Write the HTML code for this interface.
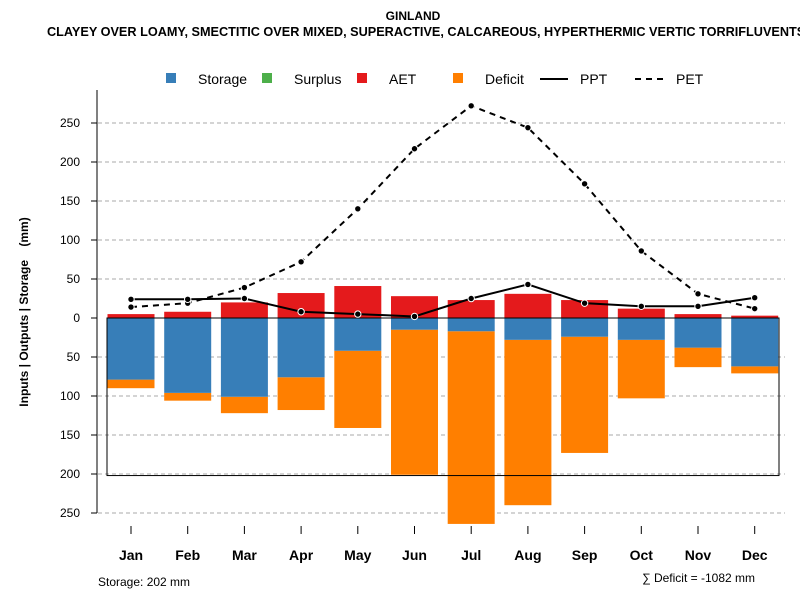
<!DOCTYPE html>
<html><head><meta charset="utf-8"><style>
body{margin:0;background:#fff}
svg{font-family:"Liberation Sans",sans-serif}
</style></head><body>
<svg id="c" width="800" height="600" xmlns="http://www.w3.org/2000/svg">
<text x="413" y="20" text-anchor="middle" font-size="12" font-weight="bold">GINLAND</text>
<text x="47" y="36" font-size="12.7" font-weight="bold">CLAYEY OVER LOAMY, SMECTITIC OVER MIXED, SUPERACTIVE, CALCAREOUS, HYPERTHERMIC VERTIC TORRIFLUVENTS</text>
<g font-size="14">
<rect x="166" y="73" width="10" height="10" fill="#377eb8"/>
<text x="198" y="84">Storage</text>
<rect x="262" y="73" width="10" height="10" fill="#4daf4a"/>
<text x="294" y="84">Surplus</text>
<rect x="357" y="73" width="10" height="10" fill="#e41a1c"/>
<text x="389" y="84">AET</text>
<rect x="453" y="73" width="10" height="10" fill="#ff7f00"/>
<text x="485" y="84">Deficit</text>
<line x1="540" y1="79" x2="568" y2="79" stroke="#000" stroke-width="2"/>
<text x="580" y="84">PPT</text>
<line x1="635" y1="79" x2="663" y2="79" stroke="#000" stroke-width="2" stroke-dasharray="6,5"/>
<text x="676" y="84">PET</text>
</g>
<text transform="translate(28,312) rotate(-90)" text-anchor="middle" font-size="12" font-weight="bold" xml:space="preserve">Inputs | Outputs | Storage    (mm)</text>
<text x="98" y="586" font-size="12">Storage: 202 mm</text>
<text x="755" y="582" text-anchor="end" font-size="12">∑ Deficit = -1082 mm</text>
<g id="g"></g>
</svg>
<script>
const months=["Jan","Feb","Mar","Apr","May","Jun","Jul","Aug","Sep","Oct","Nov","Dec"];
const ppt=[24,24,25,8,5,2,25,43,19,15,15,26];
const pet=[14,19,39,72,140,217,272,244,172,86,31,12];
const aet=[5,8,20,32,41,28,23,31,23,12,5,3];
const storage=[79,96,101,76,42,15,17,28,24,28,38,62];
const deficit=[11,10,21,42,99,186,247,212,149,75,25,9];
const yTicks=[250,200,150,100,50,0,50,100,150,200,250];
const yTickVals=[250,200,150,100,50,0,-50,-100,-150,-200,-250];
const capacity=202;
const NS="http://www.w3.org/2000/svg";
const g=document.getElementById('g');
const y=v=>318-v*0.78;
const x=i=>131+i*56.7;
const bw=47;
function mk(t,a){const e=document.createElementNS(NS,t);for(const k in a)e.setAttribute(k,a[k]);g.appendChild(e);return e;}
yTickVals.forEach((v,i)=>{
 if(v!==0){const l=mk('line',{x1:98,x2:785,y1:y(v),y2:y(v),stroke:'#aaa','stroke-dasharray':'4,3'});
 
 }
 const t=mk('line',{x1:91,x2:97,y1:y(v),y2:y(v),stroke:'#000'});
 
 
 const tx=mk('text',{x:80,y:y(v)+4,'text-anchor':'end','font-size':12});
 tx.textContent=yTicks[i];
 
 
});
const ax=mk('line',{x1:97,x2:97,y1:90,y2:513,stroke:'#000'});


months.forEach((m,i)=>{
 const d=mk('rect',{x:x(i)-bw/2,y:y(-storage[i]),width:bw,height:deficit[i]*0.78,fill:'#ff7f00'});
 
 
 const s=mk('rect',{x:x(i)-bw/2,y:y(0),width:bw,height:storage[i]*0.78,fill:'#377eb8'});
 
 
 const a=mk('rect',{x:x(i)-bw/2,y:y(aet[i]),width:bw,height:aet[i]*0.78,fill:'#e41a1c'});
 
 
 const t=mk('line',{x1:x(i),x2:x(i),y1:526,y2:534,stroke:'#000'});
 
 
 const tx=mk('text',{x:x(i),y:560,'text-anchor':'middle','font-size':14,'font-weight':'bold'});
 tx.textContent=m;
 
 
});
const box=mk('rect',{x:107,y:y(0),width:672,height:capacity*0.78,fill:'none',stroke:'#000'});


const zl=mk('line',{x1:107,x2:779,y1:y(0),y2:y(0),stroke:'#000'});


function series(arr,name,dash){
 const p=mk('polyline',{points:arr.map((v,i)=>x(i)+','+y(v)).join(' '),fill:'none',stroke:'#000','stroke-width':2,'stroke-dasharray':dash});
 
 
 arr.forEach((v,i)=>{const c=mk('circle',{cx:x(i),cy:y(v),r:3.2,fill:'#000',stroke:'#fff','stroke-width':1});
 
 });
}
series(pet,'pet','6,5');
series(ppt,'ppt','none');
</script>
</body></html>
